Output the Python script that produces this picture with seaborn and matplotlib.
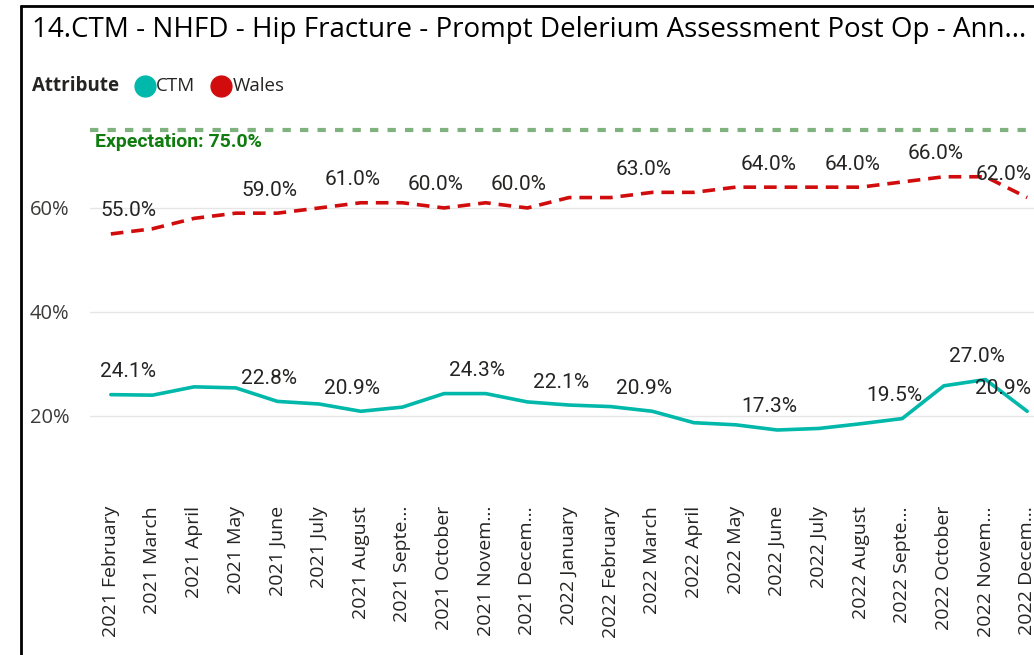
import matplotlib
matplotlib.use("Agg")
import matplotlib.pyplot as plt
from matplotlib.lines import Line2D
import seaborn as sns
import pandas as pd

months = ["2021 February", "2021 March", "2021 April", "2021 May", "2021 June", "2021 July",
          "2021 August", "2021 Septe...", "2021 October", "2021 Novem...", "2021 Decem...",
          "2022 January", "2022 February", "2022 March", "2022 April", "2022 May", "2022 June",
          "2022 July", "2022 August", "2022 Septe...", "2022 October", "2022 Novem...", "2022 Decem..."]
ctm = [24.1, 24.0, 25.6, 25.4, 22.8, 22.3, 20.9, 21.7, 24.3, 24.3, 22.7,
       22.1, 21.8, 20.9, 18.7, 18.3, 17.3, 17.6, 18.5, 19.5, 25.8, 27.0, 20.9]
wales = [55.0, 56.0, 58.0, 59.0, 59.0, 60.0, 61.0, 61.0, 60.0, 61.0, 60.0,
         62.0, 62.0, 63.0, 63.0, 64.0, 64.0, 64.0, 64.0, 65.0, 66.0, 66.0, 62.0]
ctm_label_idx = [0, 4, 6, 9, 11, 13, 16, 19, 21, 22]
wales_label_idx = [0, 4, 6, 8, 10, 13, 16, 18, 20, 22]
expectation = 75.0
yticks = [20, 40, 60]

sns.set_theme(style="white")
plt.rcParams['font.family'] = ['Open Sans', 'DejaVu Sans']

W, H = 1034, 655
fig = plt.figure(figsize=(W / 100, H / 100), dpi=100)
fig.patch.set_facecolor("white")

# axes: left 90px, right 1048px (clipped), top 105px, bottom 495px
ax = fig.add_axes([90 / W, 1 - 495 / H, (1048 - 90) / W, (495 - 105) / H])

df = pd.DataFrame({"Month": list(range(len(months))) * 2,
                   "Value": ctm + wales,
                   "Attribute": ["CTM"] * len(months) + ["Wales"] * len(months)})
teal = "#01B8AA"
red = "#D10C0C"
sns.lineplot(data=df[df.Attribute == "CTM"], x="Month", y="Value", color=teal, lw=2.6, ax=ax,
             legend=False)
sns.lineplot(data=df[df.Attribute == "Wales"], x="Month", y="Value", color=red, lw=2.6, ax=ax,
             legend=False, linestyle=(0, (3.5, 2.2)))

ax.axhline(expectation, color="#7FB27F", lw=3, linestyle=(0, (2, 2.2)), zorder=1)
ax.text(0.005, expectation - 0.5, f"Expectation: {expectation:.1f}%", color="#107C10",
        fontsize=14, fontweight="bold", va="top", ha="left",
        transform=ax.get_yaxis_transform(), family=["Roboto", "DejaVu Sans"])

ax.set_xlim(-0.5, len(months) - 0.5)
ax.set_ylim(4.8, 79.8)
ax.set_yticks(yticks)
ax.set_yticklabels([f"{v}%" for v in yticks], fontsize=14.5, color="#3B3A39")
ax.yaxis.grid(True, color="#E6E6E6", lw=1)
ax.set_xticks(range(len(months)))
ax.set_xticklabels(months, rotation=90, fontsize=14, color="#252423")
ax.tick_params(axis="x", length=0, pad=8)
ax.tick_params(axis="y", length=0, pad=15)
ax.set_xlabel("")
ax.set_ylabel("")
for s in ax.spines.values():
    s.set_visible(False)

lab_kw = dict(fontsize=15, color="#252423", family=["Roboto", "DejaVu Sans"])
def put_labels(vals, idxs, dy):
    for i in idxs:
        ha = "center"
        x = i - 0.2
        if i == 0:
            ha = "left"; x = -0.25
        if i == len(vals) - 1:
            ha = "right"; x = i + 0.1
        ax.text(x, vals[i] + dy, f"{vals[i]:.1f}%", ha=ha, va="bottom", **lab_kw)

put_labels(ctm, ctm_label_idx, 2.6)
put_labels(wales, wales_label_idx, 2.6)

# title and legend
fig.text(32 / W, 1 - 30 / H, "14.CTM - NHFD - Hip Fracture - Prompt Delerium Assessment Post Op - Ann...",
         fontsize=20, color="#000000", va="center", ha="left")
fig.text(32 / W, 1 - 86 / H, "Attribute", fontsize=13.5, fontweight="bold", color="#252423",
         va="center", ha="left")
fig.add_artist(Line2D([145 / W], [1 - 86 / H], marker="o", markersize=15, color=teal,
                      transform=fig.transFigure, linestyle="none"))
fig.text(156 / W, 1 - 86 / H, "CTM", fontsize=13.5, color="#252423", va="center", ha="left")
fig.add_artist(Line2D([221 / W], [1 - 86 / H], marker="o", markersize=15, color=red,
                      transform=fig.transFigure, linestyle="none"))
fig.text(233 / W, 1 - 86 / H, "Wales", fontsize=13.5, color="#252423", va="center", ha="left")

# frame border (left and top visible)
fig.add_artist(Line2D([21 / W, 21 / W], [0, 1 - 6 / H], color="black", lw=2, transform=fig.transFigure))
fig.add_artist(Line2D([21 / W, 1], [1 - 6 / H, 1 - 6 / H], color="black", lw=2, transform=fig.transFigure))

fig.savefig("out.png", dpi=100)
